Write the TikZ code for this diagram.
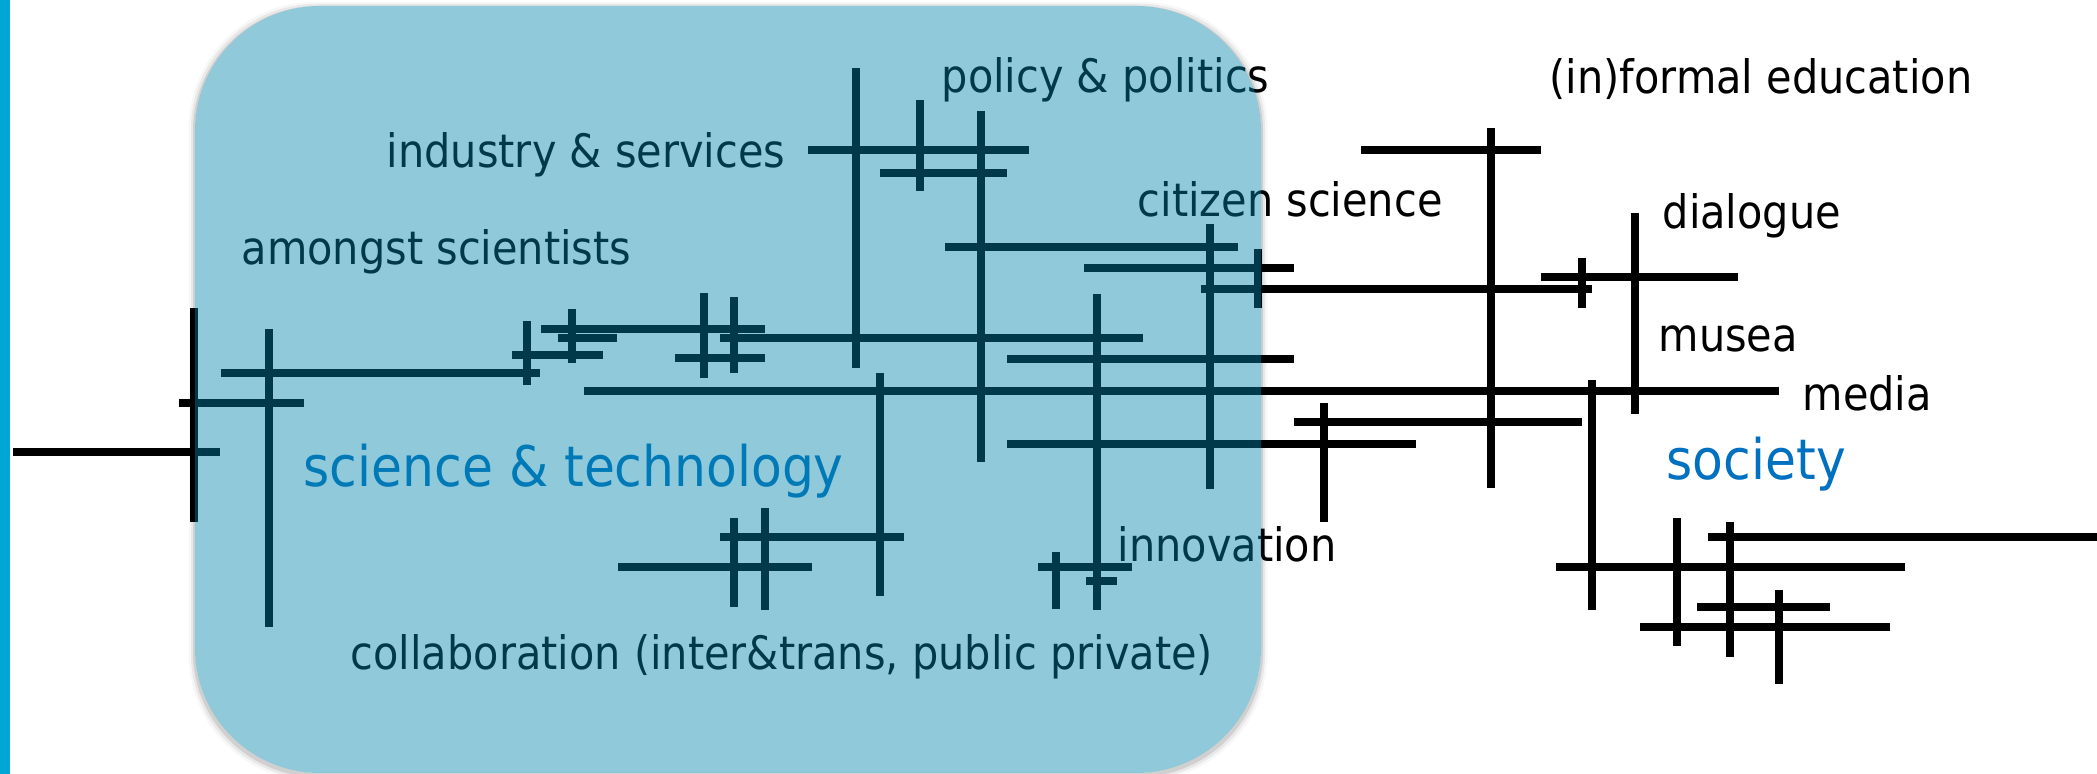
\documentclass[tikz,border=0pt]{standalone}
\usepackage{fontspec}
\newfontfamily\lblfont[FakeStretch=0.9]{DejaVu Sans}
\definecolor{boxc}{RGB}{0,133,172}
\definecolor{edgebar}{RGB}{0,166,214}
\definecolor{soc}{RGB}{0,112,192}
\begin{document}
\begin{tikzpicture}[x=0.01cm,y=-0.01cm,
  bar/.style={line width=0.075cm, draw=black},
  lbl/.style={anchor=base west, inner sep=0pt, text=black,
    font=\lblfont\fontsize{13.1}{15}\selectfont},
  biglbl/.style={anchor=base west, inner sep=0pt, text=soc,
    font=\lblfont\fontsize{15.9}{18}\selectfont},
  shade/.style={fill=black, even odd rule, rounded corners=1.25cm}]
\useasboundingbox (0,0) rectangle (2097,774);
\fill[white] (0,0) rectangle (2097,774);
\fill[edgebar] (0,0) rectangle (10,774);

% horizontal strokes: y / x-start / x-end
\foreach \y/\a/\b in {373/221/540, 329/541/765, 338/558/617, 355/512/603,
    358/675/765, 391/584/1779, 403/179/304, 452/13/220, 567/618/812,
    150/808/1029, 173/880/1007, 247/945/1238, 268/1084/1294,
    289/1201/1592, 338/720/1143, 359/1007/1294, 444/1007/1416,
    422/1294/1582, 537/720/904, 567/1038/1132, 581/1086/1117,
    150/1361/1541, 277/1541/1738, 537/1708/2097, 567/1556/1905,
    607/1697/1830, 627/1640/1890}
  \draw[bar] (\a,\y) -- (\b,\y);

% vertical strokes: x / y-start / y-end
\foreach \x/\a/\b in {194/308/522, 269/329/627, 527/321/385, 572/309/363,
    704/293/378, 734/297/373, 856/68/368, 920/100/191, 981/111/462,
    1210/224/489, 1258/249/308, 1097/294/610, 880/373/596,
    1324/403/522, 734/518/607, 765/508/610, 1056/552/609,
    1491/128/488, 1582/258/308, 1635/213/414, 1592/380/610,
    1677/518/646, 1730/522/657, 1779/590/684}
  \draw[bar] (\x,\a) -- (\x,\b);

% labels
\node[lbl] (policy) at (941,93) {policy \& politics};
\node[lbl] (industry) at (386,168) {industry \& services};
\node[lbl] (amongst) at (241,265) {amongst scientists};
\node[lbl] (citizen) at (1137,217) {citizen science};
\node[lbl] (educ) at (1549,94) {(in)formal education};
\node[lbl] (dialogue) at (1662,229) {dialogue};
\node[lbl] (musea) at (1658,352) {musea};
\node[lbl] (media) at (1802,411) {media};
\node[lbl] (innov) at (1117,562) {innovation};
\node[lbl] (collab) at (350,670) {collaboration (inter\&trans, public private)};
\node[biglbl] (scitech) at (303,487) {science \& technology};
\node[biglbl] (society) at (1666,480) {society};

% soft shadow around the rounded panel
\foreach \d/\o in {2/0.10, 4/0.06, 6/0.03}
  \fill[shade, fill opacity=\o] (195-\d,6-\d+2) rectangle (1261+\d,773+\d+2)
    (195,6) rectangle (1261,773);

% translucent panel
\fill[boxc, fill opacity=0.435, rounded corners=1.25cm] (195,6) rectangle (1261,773);
\end{tikzpicture}
\end{document}
